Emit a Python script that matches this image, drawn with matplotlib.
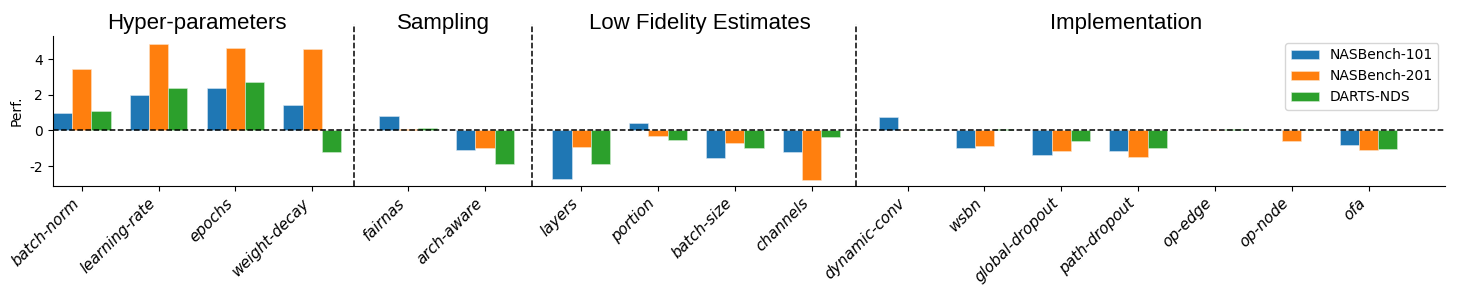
import numpy as np
import matplotlib
matplotlib.use("Agg")
import matplotlib.pyplot as plt

plt.rcParams['axes.unicode_minus'] = False

labels = ['batch-norm', 'learning-rate', 'epochs', 'weight-decay',
          'fairnas', 'arch-aware',
          'layers', 'portion', 'batch-size', 'channels',
          'dynamic-conv', 'wsbn', 'global-dropout', 'path-dropout', 'op-edge', 'op-node', 'ofa']
group_sizes = [4, 2, 4, 7]
group_names = ['Hyper-parameters', 'Sampling', 'Low Fidelity Estimates', 'Implementation']

nb101 = [0.98, 2.0, 2.39, 1.41, 0.81, -1.11, -2.69, 0.44, -1.54, -1.2, 0.78, -0.98, -1.35, -1.13, 0.0, 0.0, -0.81]
nb201 = [3.46, 4.83, 4.61, 4.59, 0.09, -1.0, -0.93, -0.31, -0.69, -2.78, 0.0, -0.89, -1.17, -1.5, 0.0, -0.57, -1.11]
darts = [1.11, 2.39, 2.72, -1.2, 0.13, -1.89, -1.85, -0.56, -0.96, -0.37, 0.0, 0.07, -0.57, -0.98, 0.11, 0.0, -1.06]

# x positions with a gap between groups
x = []
pos = 0.0
for gi, n in enumerate(group_sizes):
    for i in range(n):
        x.append(pos)
        pos += 1
    pos += 0.25
x = np.array(x)

fig, ax = plt.subplots(figsize=(14.6, 2.89), dpi=100)
fig.subplots_adjust(left=0.036, right=0.99, top=0.876, bottom=0.357)

w = 0.25
ax.bar(x - w, nb101, w, color='tab:blue', label='NASBench-101', edgecolor='#dbe8f3', linewidth=0.4)
ax.bar(x, nb201, w, color='tab:orange', label='NASBench-201', edgecolor='#fde2c7', linewidth=0.4)
ax.bar(x + w, darts, w, color='tab:green', label='DARTS-NDS', edgecolor='#d3ecd3', linewidth=0.4)

ax.axhline(0, color='black', linestyle='--', linewidth=1.1, zorder=1)
for xd in [3.55, 5.86, 10.08]:
    ax.plot([xd, xd], [0, 1.08], transform=ax.get_xaxis_transform(), color='black',
            linestyle='--', linewidth=1.1, clip_on=False)

for name, xt in zip(group_names, [1.5, 4.71, 8.05, 13.6]):
    ax.text(xt, 1.015, name, transform=ax.get_xaxis_transform(), ha='center', va='bottom',
            fontsize=16, family='Liberation Sans')

ax.set_xlim(-0.38, 17.75)
ax.set_ylim(-3.1, 5.3)
ax.set_yticks([-2, 0, 2, 4])
ax.set_xticks(x)
ax.set_xticklabels(labels, rotation=45, ha='right', fontstyle='italic', fontsize=11)
ax.tick_params(axis='y', labelsize=10)
ax.set_ylabel('Perf.', fontsize=10)
ax.spines['top'].set_visible(False)
ax.spines['right'].set_visible(False)
ax.legend(loc='upper right', fontsize=10)

fig.savefig('out.png', dpi=100)
